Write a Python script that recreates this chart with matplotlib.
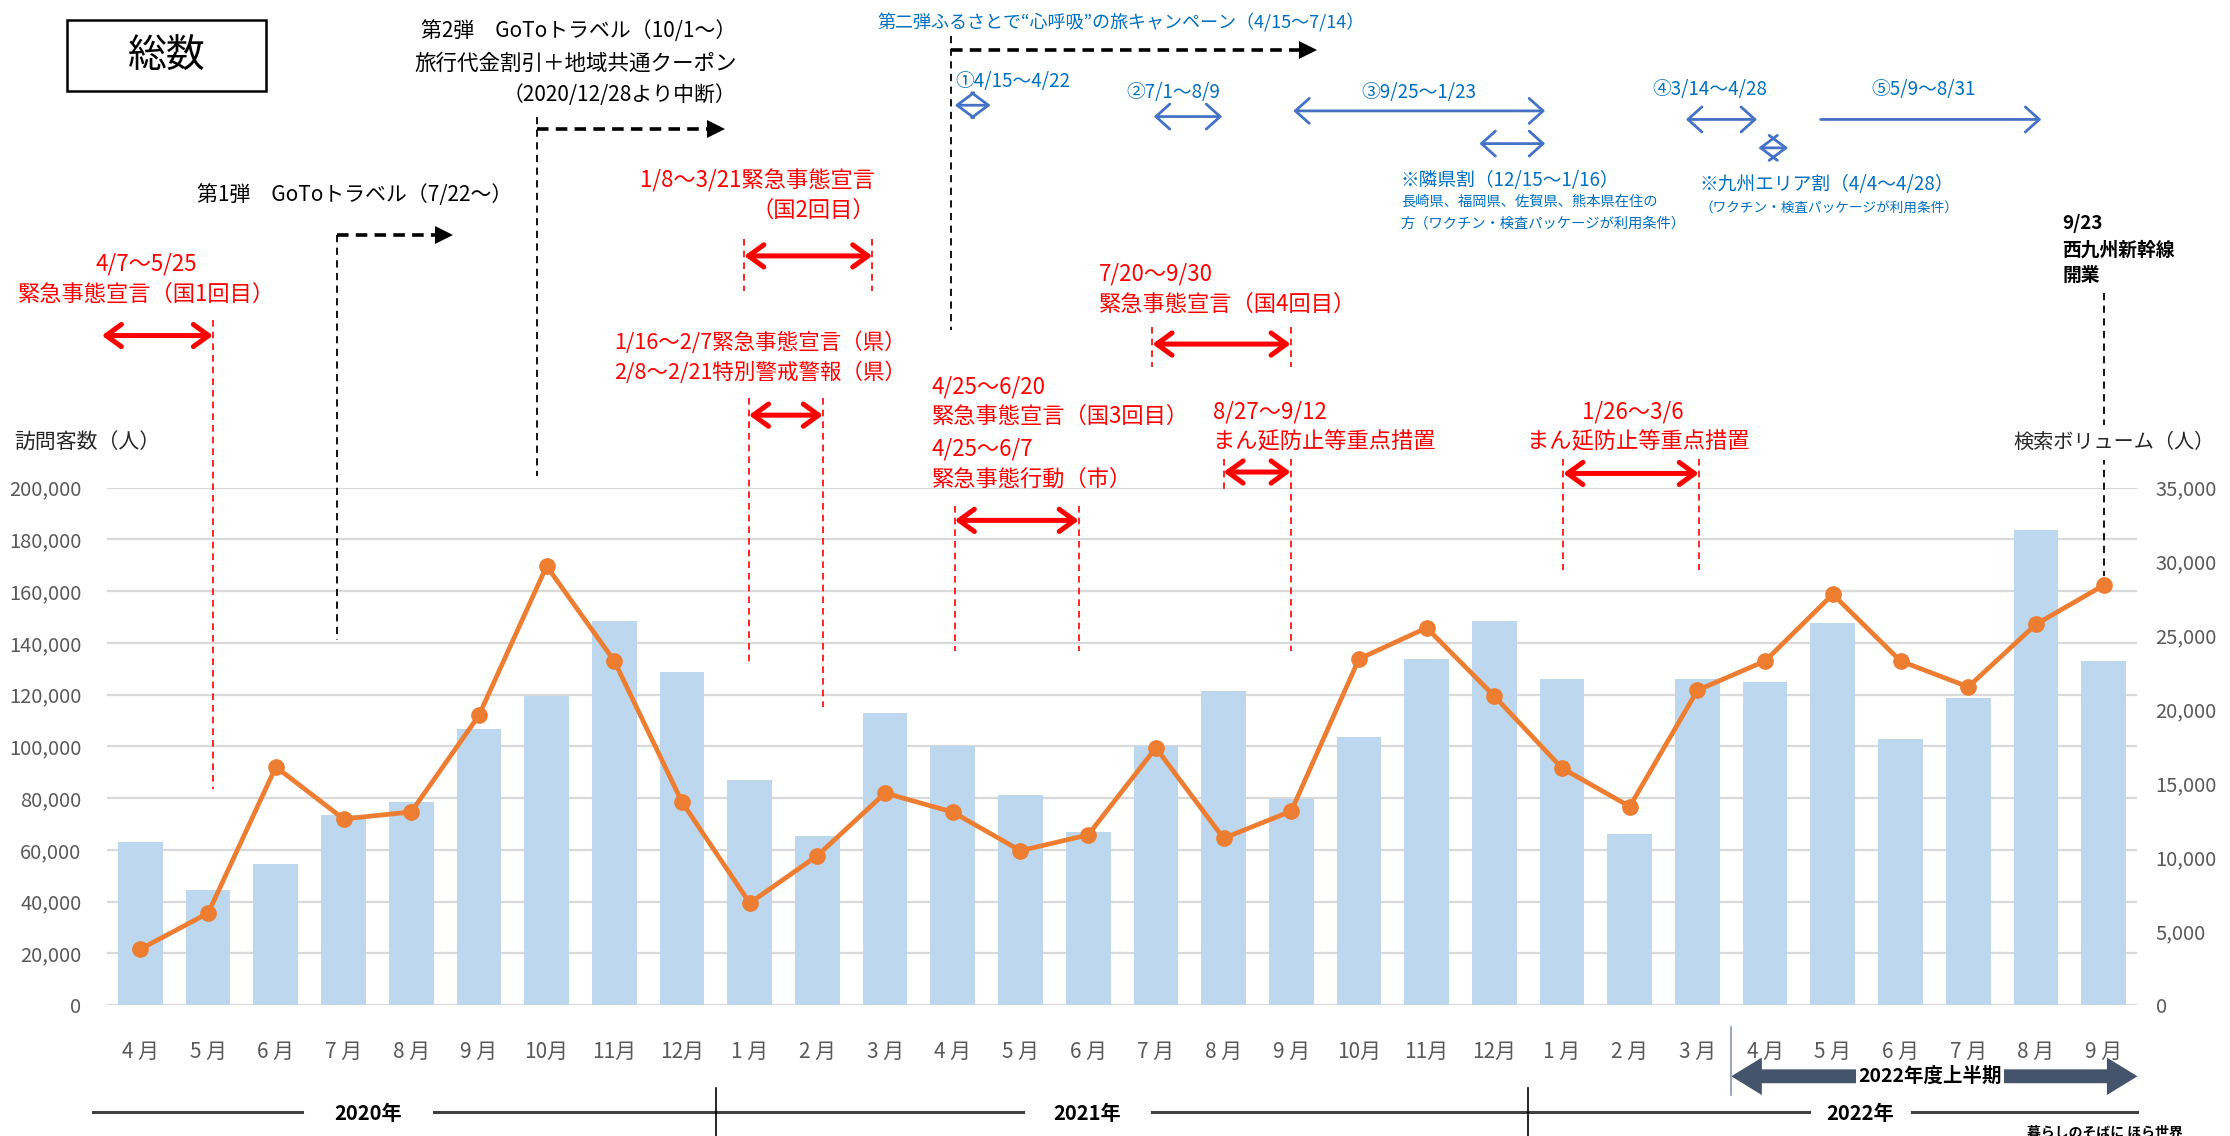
import numpy as np
import matplotlib
matplotlib.use('Agg')
import matplotlib.pyplot as plt
import matplotlib.transforms as mtransforms
from matplotlib.lines import Line2D
from matplotlib.patches import FancyArrowPatch, Rectangle
from matplotlib.ticker import FuncFormatter

plt.rcParams['font.family'] = ['Noto Sans CJK JP', 'DejaVu Sans']

# 2020/4 - 2022/9
month_num = [4, 5, 6, 7, 8, 9, 10, 11, 12,
             1, 2, 3, 4, 5, 6, 7, 8, 9, 10, 11, 12,
             1, 2, 3, 4, 5, 6, 7, 8, 9]
visitors = [63000, 44600, 54600, 73600, 78500, 106600, 119400, 148600, 128600,
            87100, 65400, 112900, 100000, 81300, 66800, 100000, 121500, 79700,
            103600, 133800, 148500,
            126200, 66000, 126200, 124900, 147700, 103000, 118700, 183500, 133200]
search = [3800, 6230, 16120, 12600, 13070, 19600, 29700, 23280, 13740,
          6910, 10120, 14350, 13060, 10450, 11520, 17410, 11290, 13130,
          23420, 25520, 20900,
          16030, 13440, 21300, 23280, 27790, 23280, 21530, 25760, 28400]
month_labels = [f'{m} 月' if m < 10 else f'{m}月' for m in month_num]

years = ['2020年', '2021年', '2022年']
year_centers = [3.36, 13.99, 25.41]
year_gaps = [0.98, 0.95, 0.76]
year_breaks = [8.5, 20.5]

GRAY = '#595959'
RED = '#FF0000'
BLUE_T = '#0070C0'
BLUE_A = '#4472C4'

fig = plt.figure(figsize=(22.3, 11.36), dpi=100)
ax = fig.add_axes([0.0478, 0.1151, 0.9107, 0.4556])
x = np.arange(len(visitors))

ax.bar(x, visitors, width=0.66, color='#BDD7EE', zorder=2)
ax.set_xlim(-0.5, len(x) - 0.5)
ax.set_ylim(0, 200000)
ax.set_yticks(np.arange(0, 200001, 20000))
ax.yaxis.set_major_formatter(FuncFormatter(lambda v, p: f'{int(v):,}'))
ax.grid(axis='y', color='#D9D9D9', lw=1.6)
ax.set_axisbelow(True)
for s in ax.spines.values():
    s.set_visible(False)
ax.set_xticks(x)
ax.set_xticklabels(month_labels)
ax.tick_params(axis='y', length=0, pad=18, labelsize=14.5, labelcolor=GRAY)
ax.tick_params(axis='x', length=0, pad=26, labelsize=15, labelcolor=GRAY)

ax2 = ax.twinx()
ax2.plot(x, search, color='#ED7D31', lw=3.4, marker='o', ms=11, zorder=3)
ax2.set_ylim(0, 35000)
ax2.set_yticks(np.arange(0, 35001, 5000))
ax2.yaxis.set_major_formatter(FuncFormatter(lambda v, p: f'{int(v):,}'))
ax2.tick_params(axis='y', length=0, pad=13, labelsize=14.5, labelcolor=GRAY)
for s in ax2.spines.values():
    s.set_visible(False)

# layout helpers: text positions on a 1568x799 grid, marks in month index
def fx(px):
    return px / 1568

def fy(py):
    return 1 - py / 799

blend = mtransforms.blended_transform_factory(ax.transData, fig.transFigure)


def vdash(xi, y0, y1, color, lw=1.3, dash=(4, 3)):
    fig.add_artist(Line2D([xi, xi], [fy(y0), fy(y1)], transform=blend,
                          color=color, lw=lw, ls=(0, dash)))


def goto_arrow(x0, x1, y):
    fig.add_artist(Line2D([x0, x1 - 0.12], [fy(y), fy(y)], transform=blend,
                          color='black', lw=2.6, ls=(0, (3.2, 2))))
    fig.add_artist(Line2D([x1], [fy(y)], transform=blend, marker='>',
                          ms=13, color='black', mew=0))


def span(x0, x1, y, color, lw, style):
    fig.add_artist(FancyArrowPatch((x0, fy(y)), (x1, fy(y)), transform=blend,
                                   arrowstyle=style, mutation_scale=20,
                                   color=color, lw=lw, shrinkA=0, shrinkB=0))


RED_ST = '<->,head_length=0.55,head_width=0.4'
BLUE_ST = '<->,head_length=0.5,head_width=0.45'
DIAM_ST = '<->,head_length=0.6,head_width=0.45'

# title box
fig.add_artist(Rectangle((fx(47), fy(64)), fx(187) - fx(47), fy(14) - fy(64),
                         transform=fig.transFigure, fill=False, ec='black', lw=1.8))
fig.text(fx(117), fy(40), '総数', fontsize=28, ha='center', va='center')

# GoTo travel
fig.text(fx(518), fy(22), '第2弾　GoToトラベル（10/1～）', fontsize=15, ha='right', va='center')
fig.text(fx(518), fy(45), '旅行代金割引＋地域共通クーポン', fontsize=15.5, ha='right', va='center')
fig.text(fx(518), fy(67), '（2020/12/28より中断）', fontsize=15, ha='right', va='center')
vdash(5.86, 82, 335, 'black', lw=1.3)
goto_arrow(5.86, 8.5, 91)

fig.text(fx(360), fy(137), '第1弾　GoToトラベル（7/22～）', fontsize=15, ha='right', va='center')
vdash(2.90, 165, 450, 'black', lw=1.3)
goto_arrow(2.90, 4.49, 165)

# emergency declarations (red)
fig.text(fx(103), fy(186), '4/7～5/25', fontsize=16, ha='center', va='center', color=RED)
fig.text(fx(103), fy(207), '緊急事態宣言（国1回目）', fontsize=16, ha='center', va='center', color=RED)
span(-0.57, 1.07, 236, RED, 3.6, RED_ST)
vdash(1.07, 225, 555, RED, lw=1.2)

fig.text(fx(615), fy(127), '1/8～3/21緊急事態宣言', fontsize=16, ha='right', va='center', color=RED)
fig.text(fx(615), fy(148), '（国2回目）', fontsize=16, ha='right', va='center', color=RED)
span(8.92, 10.81, 180, RED, 3.6, RED_ST)
vdash(8.92, 168, 205, RED, lw=1.2)
vdash(10.81, 168, 205, RED, lw=1.2)

fig.text(fx(432), fy(241), '1/16～2/7緊急事態宣言（県）', fontsize=15.5, ha='left', va='center', color=RED)
fig.text(fx(432), fy(262), '2/8～2/21特別警戒警報（県）', fontsize=15.5, ha='left', va='center', color=RED)
span(8.99, 10.08, 292, RED, 3.6, RED_ST)
vdash(8.99, 280, 468, RED, lw=1.2)
vdash(10.08, 280, 497, RED, lw=1.2)

fig.text(fx(655), fy(272), '4/25～6/20', fontsize=16, ha='left', va='center', color=RED)
fig.text(fx(655), fy(293), '緊急事態宣言（国3回目）', fontsize=16, ha='left', va='center', color=RED)
fig.text(fx(655), fy(316), '4/25～6/7', fontsize=16, ha='left', va='center', color=RED)
fig.text(fx(655), fy(337), '緊急事態行動（市）', fontsize=16, ha='left', va='center', color=RED)
span(12.03, 13.86, 366, RED, 3.6, RED_ST)
vdash(12.03, 356, 458, RED, lw=1.2)
vdash(13.86, 356, 458, RED, lw=1.2)

fig.text(fx(773), fy(193), '7/20～9/30', fontsize=16, ha='left', va='center', color=RED)
fig.text(fx(773), fy(214), '緊急事態宣言（国4回目）', fontsize=16, ha='left', va='center', color=RED)
span(14.95, 16.99, 242, RED, 3.6, RED_ST)
vdash(14.95, 230, 258, RED, lw=1.2)
vdash(16.99, 230, 258, RED, lw=1.2)

fig.text(fx(853), fy(290), '8/27～9/12', fontsize=16, ha='left', va='center', color=RED)
fig.text(fx(853), fy(311), 'まん延防止等重点措置', fontsize=16, ha='left', va='center', color=RED)
span(16.0, 16.99, 332, RED, 3.6, RED_ST)
vdash(16.0, 323, 346, RED, lw=1.2)
vdash(16.99, 323, 458, RED, lw=1.2)

fig.text(fx(1148), fy(290), '1/26～3/6', fontsize=16, ha='center', va='center', color=RED)
fig.text(fx(1152), fy(311), 'まん延防止等重点措置', fontsize=16, ha='center', va='center', color=RED)
span(21.02, 23.02, 333, RED, 3.6, RED_ST)
vdash(21.02, 323, 401, RED, lw=1.2)
vdash(23.02, 323, 401, RED, lw=1.2)

# furusato campaign (blue)
fig.text(fx(617), fy(16), '第二弾ふるさとで“心呼吸”の旅キャンペーン（4/15～7/14）', fontsize=13,
         ha='left', va='center', color=BLUE_T)
vdash(11.97, 25, 232, 'black', lw=1.3)
goto_arrow(11.97, 17.24, 35)

fig.text(fx(672), fy(57), '①4/15～4/22', fontsize=13.5, ha='left', va='center', color=BLUE_T)
span(12.03, 12.56, 74, BLUE_A, 2.0, DIAM_ST)
fig.text(fx(792), fy(65), '②7/1～8/9', fontsize=13.5, ha='left', va='center', color=BLUE_T)
span(14.97, 15.98, 82, BLUE_A, 2.0, BLUE_ST)
fig.text(fx(957), fy(65), '③9/25～1/23', fontsize=13.5, ha='left', va='center', color=BLUE_T)
span(17.03, 20.75, 78, BLUE_A, 2.0, BLUE_ST)
span(19.78, 20.75, 101, BLUE_A, 2.0, BLUE_ST)
fig.text(fx(1162), fy(63), '④3/14～4/28', fontsize=13.5, ha='left', va='center', color=BLUE_T)
span(22.83, 23.88, 84, BLUE_A, 2.0, BLUE_ST)
span(23.90, 24.34, 104, BLUE_A, 2.0, DIAM_ST)
fig.text(fx(1316), fy(63), '⑤5/9～8/31', fontsize=13.5, ha='left', va='center', color=BLUE_T)
span(24.82, 28.08, 84, BLUE_A, 2.0, '->,head_length=0.5,head_width=0.45')

fig.text(fx(985), fy(127), '※隣県割（12/15～1/16）', fontsize=13.5, ha='left', va='center', color=BLUE_T)
fig.text(fx(985), fy(142), '長崎県、福岡県、佐賀県、熊本県在住の', fontsize=10.3, ha='left', va='center', color=BLUE_T)
fig.text(fx(985), fy(157), '方（ワクチン・検査パッケージが利用条件）', fontsize=10.3, ha='left', va='center', color=BLUE_T)
fig.text(fx(1195), fy(130), '※九州エリア割（4/4～4/28）', fontsize=13.5, ha='left', va='center', color=BLUE_T)
fig.text(fx(1195), fy(146), '（ワクチン・検査パッケージが利用条件）', fontsize=9.8, ha='left', va='center', color=BLUE_T)

# shinkansen
fig.text(fx(1450), fy(157), '9/23', fontsize=13.5, ha='left', va='center', weight='bold')
fig.text(fx(1450), fy(176), '西九州新幹線', fontsize=13.5, ha='left', va='center', weight='bold')
fig.text(fx(1450), fy(194), '開業', fontsize=13.5, ha='left', va='center', weight='bold')
vdash(29.0, 206, 405, 'black', lw=1.3)

# axis titles
fig.text(fx(10), fy(311), '訪問客数（人）', fontsize=15, ha='left', va='center', color='#262626')
fig.text(fx(1416), fy(311), '検索ボリューム（人）', fontsize=14.5, ha='left', va='center', color='#262626',
         bbox=dict(boxstyle='square,pad=0.35', fc='white', ec='none'))

# year axis
edges = [-0.70]
for c, g in zip(year_centers, year_gaps):
    edges += [c - g, c + g]
edges.append(29.49)
for a, b in zip(edges[0::2], edges[1::2]):
    fig.add_artist(Line2D([a, b], [fy(782), fy(782)], transform=blend, color='#404040', lw=2.2))
for c, t in zip(year_centers, years):
    ax.annotate(t, xy=(c, fy(783)), xycoords=blend, ha='center', va='center',
                fontsize=14.5, weight='bold', annotation_clip=False)
for xb in year_breaks:
    fig.add_artist(Line2D([xb, xb], [fy(765), fy(800)], transform=blend, color='black', lw=1.2))

# 2022 first half arrow
fig.add_artist(Line2D([23.5, 23.5], [fy(722), fy(770)], transform=blend, color='#8497B0', lw=1.2))
for end in (23.5, 29.5):
    fig.add_artist(FancyArrowPatch((26.5, fy(757)), (end, fy(757)), transform=blend,
                                   arrowstyle='simple,head_length=1.1,head_width=1.35,tail_width=0.5',
                                   mutation_scale=20, color='#44546A', lw=0, shrinkA=0, shrinkB=0))
fig.text(fx(1357), fy(757), '2022年度上半期', fontsize=14, ha='center', va='center', weight='bold',
         bbox=dict(boxstyle='square,pad=0.1', fc='white', ec='none'))

fig.text(fx(1425), fy(792), '暮らしのそばに ほら世界', fontsize=10, ha='left', va='top', weight='bold')

fig.savefig('out.png', dpi=100)
